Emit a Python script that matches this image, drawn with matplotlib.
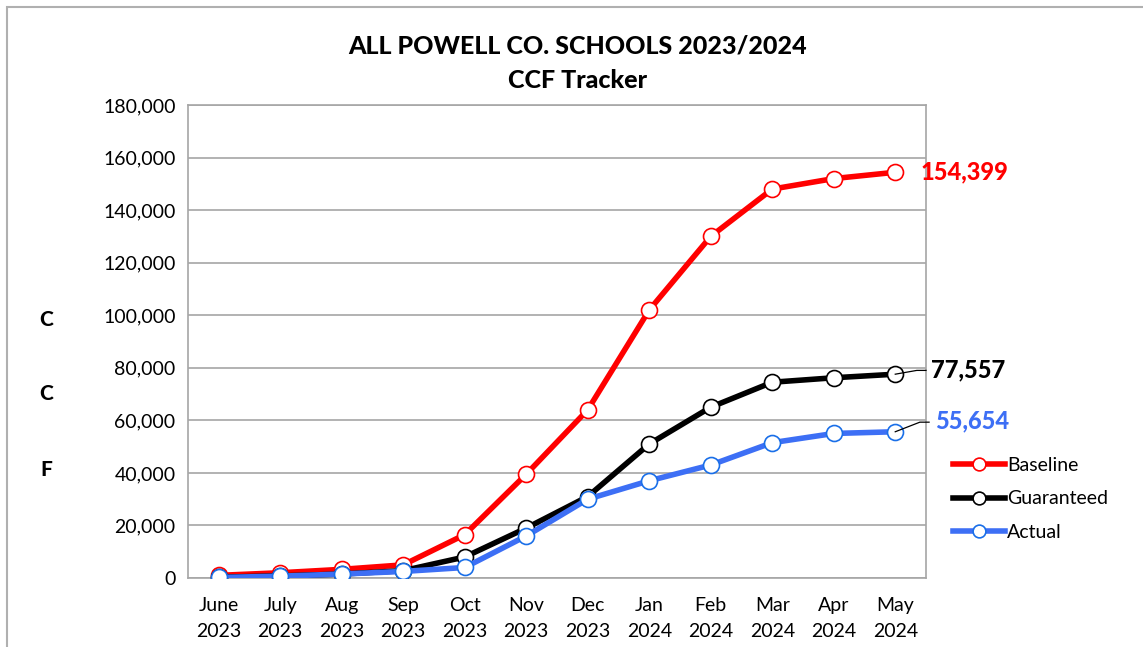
import matplotlib.pyplot as plt
from matplotlib.patches import Rectangle
from matplotlib.ticker import FuncFormatter

# Data
months = ["June\n2023", "July\n2023", "Aug\n2023", "Sep\n2023", "Oct\n2023", "Nov\n2023",
          "Dec\n2023", "Jan\n2024", "Feb\n2024", "Mar\n2024", "Apr\n2024", "May\n2024"]
baseline = [1000, 2000, 3300, 5000, 16500, 39500, 64000, 102000, 130000, 148000, 152000, 154399]
guaranteed = [300, 800, 1500, 2800, 8000, 19000, 31000, 51000, 65000, 74500, 76200, 77557]
actual = [200, 700, 1500, 2500, 4000, 16000, 30000, 37000, 43000, 51500, 55000, 55654]
side_letters = ["C", "C", "F"]

plt.rcParams['font.family'] = ['Lato', 'DejaVu Sans']

fig = plt.figure(figsize=(11.43, 6.47), dpi=100)
ax = fig.add_axes([188/1143, 69/647, 738/1143, 473/647])

# outer frame of the chart area
fig.patches.append(Rectangle((7/1143, -0.1), 1.2, (640 + 64.7)/647, transform=fig.transFigure,
                             fill=False, edgecolor="#b0b0b0", linewidth=1.5))

x = list(range(len(months)))
red = "#ff0000"
blue = "#3d6ff5"

ax.plot(x, baseline, color=red, lw=4, marker="o", ms=11.5, mfc="white", mec=red, mew=1.2,
        label="Baseline", zorder=3)
ax.plot(x, guaranteed, color="black", lw=4, marker="o", ms=11.5, mfc="white", mec="black", mew=1.2,
        label="Guaranteed", zorder=4)
ax.plot(x, actual, color=blue, lw=4, marker="o", ms=11.5, mfc="white", mec="#1a6fe8", mew=1.2,
        label="Actual", zorder=5)

ax.set_xlim(-0.5, 11.5)
ax.set_ylim(0, 180000)
ax.set_yticks(range(0, 180001, 20000))
ax.yaxis.set_major_formatter(FuncFormatter(lambda v, p: f"{int(v):,}"))
ax.set_xticks(x)
ax.set_xticklabels(months, linespacing=1.6)
ax.tick_params(axis="both", length=0, labelsize=14, pad=9)
ax.tick_params(axis="x", pad=14)
ax.grid(axis="y", color="#a6a6a6", lw=1.2)
ax.set_axisbelow(True)
for s in ax.spines.values():
    s.set_color("#a6a6a6")
    s.set_linewidth(1.2)

# end-value labels
ax.annotate(f"{baseline[-1]:,}", (11, baseline[-1]), xytext=(18, 0), textcoords="offset points",
            color=red, fontsize=17, fontweight=900, va="center")
ax.annotate(f"{guaranteed[-1]:,}", (11, guaranteed[-1]), xytext=(26, 3), textcoords="offset points",
            color="black", fontsize=17, fontweight=900, va="center")
ax.plot([11, 11.35, 11.5], [guaranteed[-1], 79000, 79000], color="black", lw=0.9, zorder=6, clip_on=False)
ax.annotate(f"{actual[-1]:,}", (11, actual[-1]), xytext=(29, 8), textcoords="offset points",
            color=blue, fontsize=17, fontweight=900, va="center")
ax.plot([11, 11.4, 11.55], [actual[-1], 59300, 59300], color="black", lw=0.9, zorder=6, clip_on=False)

fig.text(578/1143, 1 - 46/647, "ALL POWELL CO. SCHOOLS 2023/2024", ha="center", va="center",
         fontsize=18, fontweight=900)
fig.text(578/1143, 1 - 81/647, "CCF Tracker", ha="center", va="center",
         fontsize=18, fontweight=900)

for letter, yy in zip(side_letters, [319, 394, 470]):
    fig.text(46/1143, 1 - yy/647, letter, ha="center", va="center", fontsize=15, fontweight=900)

ax.legend(loc="center left", bbox_to_anchor=(945/1143, 1 - 499/647), bbox_transform=fig.transFigure,
          frameon=False, fontsize=14, handlelength=2.7, handletextpad=0.1, labelspacing=0.85,
          markerscale=0.8, borderaxespad=0)

fig.savefig("out.png", dpi=100)
